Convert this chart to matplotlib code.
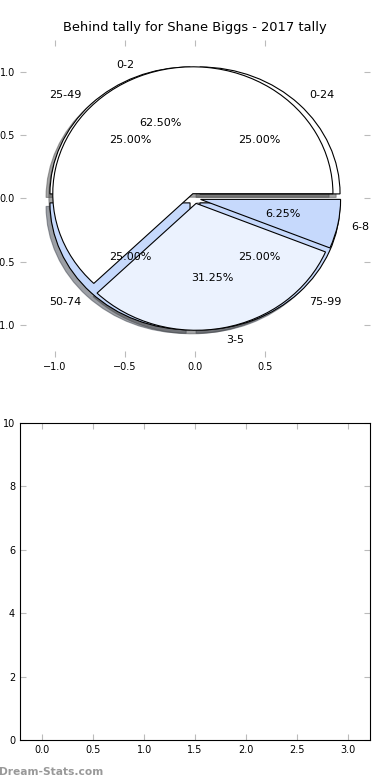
import matplotlib
matplotlib.use("Agg")
import matplotlib.pyplot as plt

# behind tally (outer bands) and goal tally
behind_labels = ["0-24", "25-49", "50-74", "75-99"]
behind_vals = [25, 25, 25, 25]
behind_cols = ["white", "white", "#c6d9fc", "#c6d9fc"]

tally_labels = ["0-2", "3-5", "6-8"]
tally_vals = [62.5, 31.25, 6.25]
tally_cols = ["white", "#ebf2fe", "#c6d9fc"]

xt = [-1.0, -0.5, 0.0, 0.5]
yt = [-1.0, -0.5, 0.0, 0.5, 1.0]

fig = plt.figure(figsize=(3.9, 7.8), dpi=100)
fig.subplots_adjust(left=0.051, right=0.949, top=0.949, bottom=0.051, hspace=0.208)

ax = fig.add_subplot(2, 1, 1)
wp = {"edgecolor": "black", "linewidth": 0.8}
ax.pie(behind_vals, labels=behind_labels, colors=behind_cols, explode=[0.05] * 4,
       autopct="%1.2f%%", shadow=True, wedgeprops=wp, frame=False,
       textprops={"fontsize": 8})
ax.pie(tally_vals, labels=tally_labels, colors=tally_cols, explode=[0.04] * 3,
       autopct="%1.2f%%", shadow=True, wedgeprops=wp, frame=False,
       textprops={"fontsize": 8})
ax.set_aspect("auto")
ax.set_xlim(-1.25, 1.25)
ax.set_ylim(-1.25, 1.25)
ax.set_xticks(xt)
ax.set_yticks(yt)
ax.tick_params(direction="in", color="#bbbbbb", top=True, right=True,
               length=4, labelsize=7)
ax.set_title("Behind tally for Shane Biggs - 2017 tally", fontsize=9.4)

ax2 = fig.add_subplot(2, 1, 2)
ax2.set_xlim(-0.22, 3.22)
ax2.set_ylim(0, 10)
ax2.set_xticks([0.0, 0.5, 1.0, 1.5, 2.0, 2.5, 3.0])
ax2.set_yticks([0, 2, 4, 6, 8, 10])
ax2.tick_params(direction="in", color="#bbbbbb", top=True, right=True,
                length=4, labelsize=7)

fig.text(-0.003, 0.007, "Dream-Stats.com", fontsize=7.7, color="#999999",
         fontweight="bold")

fig.savefig("out.png", dpi=100)
